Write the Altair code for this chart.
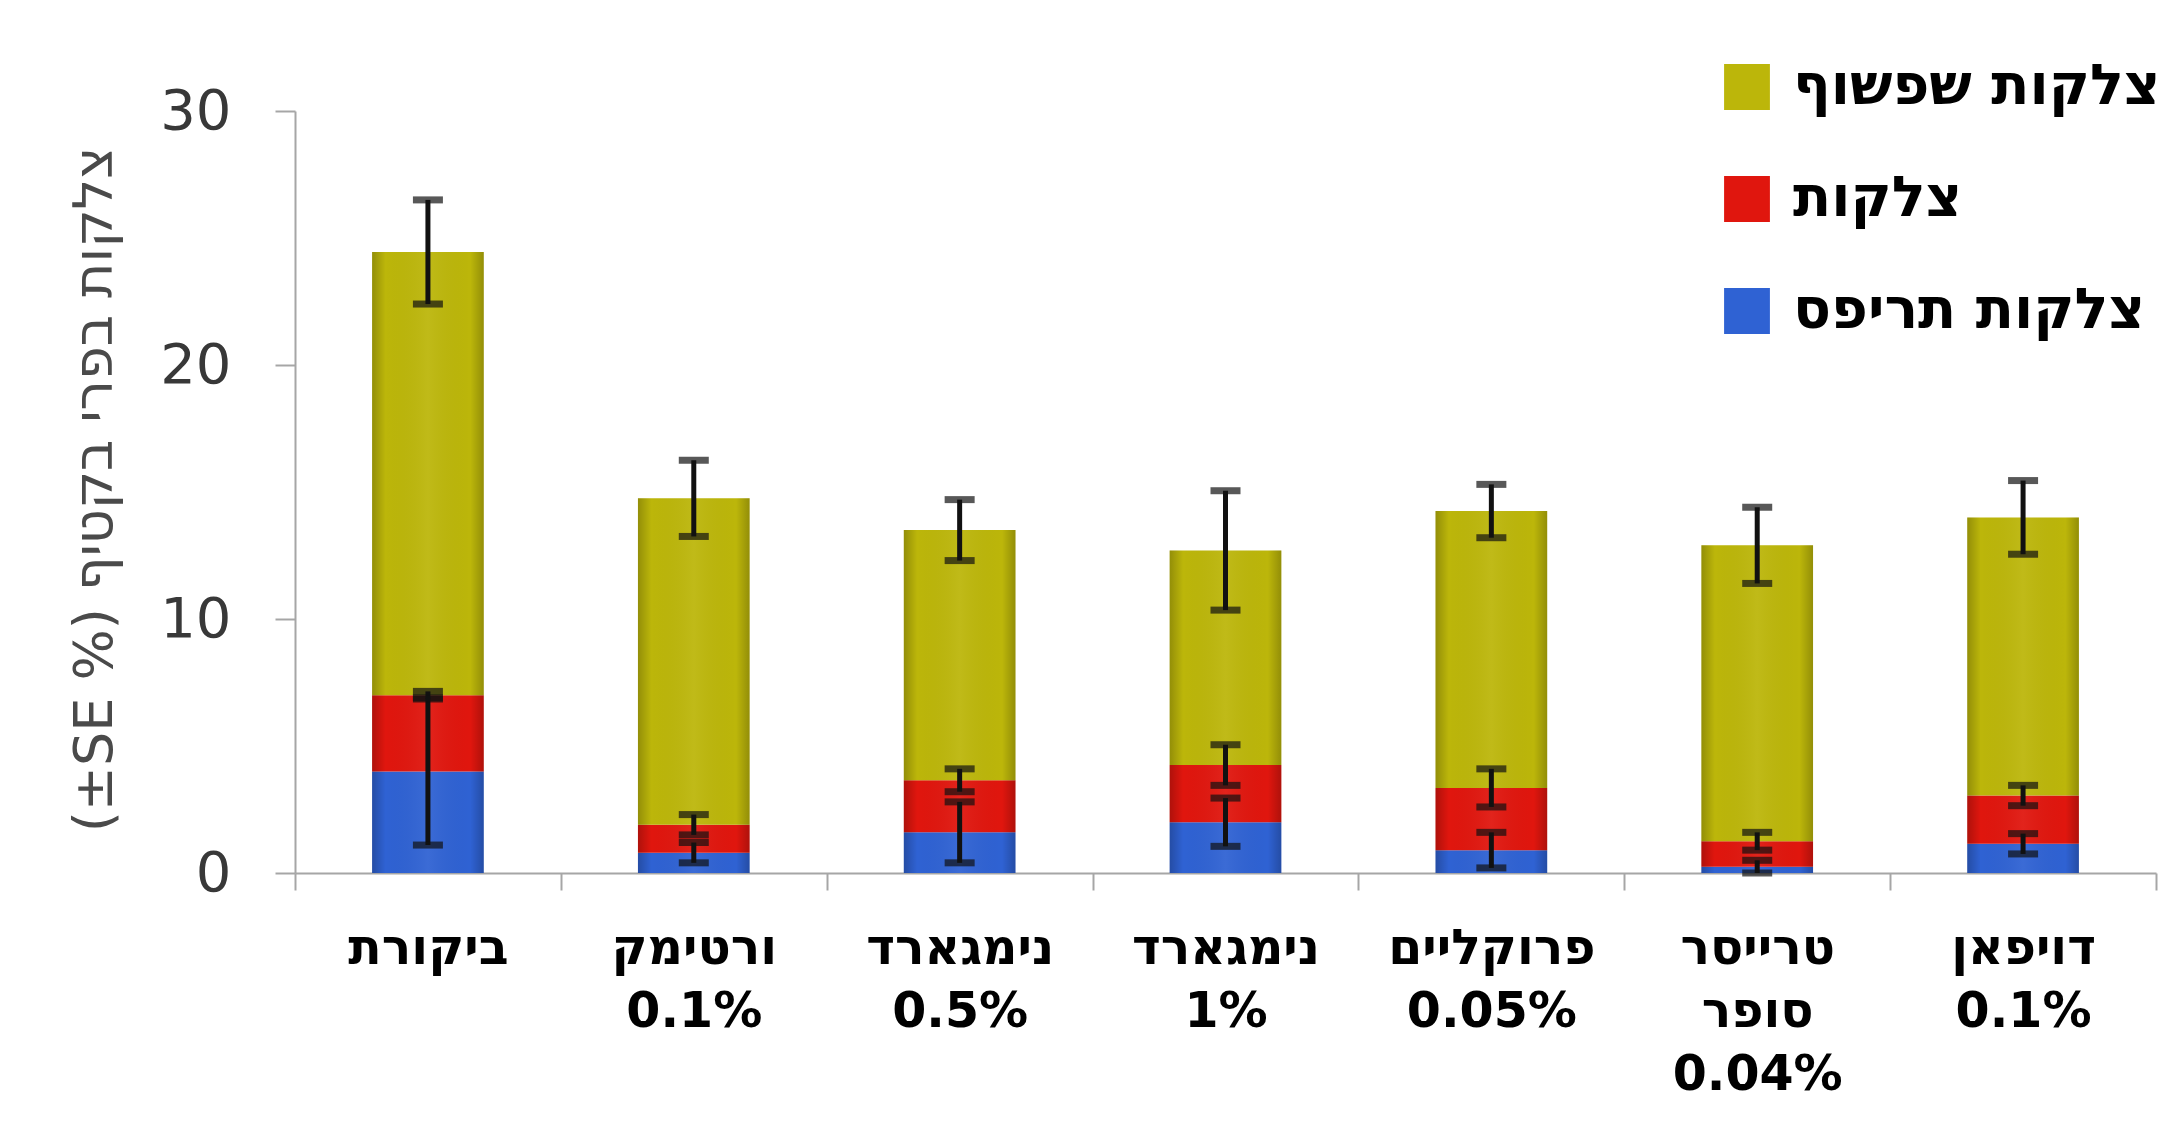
import altair as alt
import pandas as pd

# Categories (left to right); a space marks a line break in the axis label
categories = [
    "ביקורת",
    "ורטימק 0.1%",
    "נימגארד 0.5%",
    "נימגארד 1%",
    "פרוקליים 0.05%",
    "טרייסר סופר 0.04%",
    "דויפאן 0.1%",
]

# Series names (legend order top -> bottom)
series_names = ["צלקות שפשוף", "צלקות", "צלקות תריפס"]
series_colors = ["#bcb60a", "#e0160e", "#2f62d3"]

# Segment heights (stack: thrips at bottom, scars, rub scars on top)
thrips = [4.0, 0.8, 1.6, 2.0, 0.9, 0.25, 1.15]
scars = [3.0, 1.1, 2.05, 2.25, 2.45, 1.0, 1.9]
rub = [17.45, 12.85, 9.85, 8.45, 10.9, 11.65, 10.95]

# Standard errors (drawn at the cumulative top of each segment)
thrips_se = [2.9, 0.4, 1.2, 0.95, 0.7, 0.25, 0.4]
scars_se = [0.15, 0.4, 0.45, 0.8, 0.75, 0.35, 0.4]
rub_se = [2.05, 1.5, 1.2, 2.35, 1.05, 1.5, 1.45]

y_title = "(±SE %) צלקות בפרי בקטיף"

rows = []
for i, c in enumerate(categories):
    base_v = 0.0
    for name, vals, ses in [
        (series_names[2], thrips, thrips_se),
        (series_names[1], scars, scars_se),
        (series_names[0], rub, rub_se),
    ]:
        lo = base_v
        hi = base_v + vals[i]
        rows.append({"cat": c, "series": name, "lo": lo, "hi": hi,
                     "elo": hi - ses[i], "ehi": hi + ses[i]})
        base_v = hi
df = pd.DataFrame(rows)

GRAY = "#a6a6a6"
FONT = "DejaVu Sans"

x_axis = alt.Axis(
    title=None, labelAngle=0, labelExpr="split(datum.label, ' ')",
    labelFont=FONT, labelFontSize=49, labelFontWeight="bold", labelColor="black",
    labelLineHeight=63, labelPadding=34, labelBaseline="top", labelLimit=600,
    tickBand="extent", tickSize=17, tickColor=GRAY, tickWidth=2,
    domainColor=GRAY, domainWidth=2,
)
x_scale = alt.Scale(paddingInner=0, paddingOuter=0)

y_axis = alt.Axis(
    title=y_title, values=[0, 10, 20, 30], grid=False,
    labelFont=FONT, labelFontSize=56, labelColor="#383838", labelPadding=44,
    tickSize=20, tickColor=GRAY, tickWidth=2, domainColor=GRAY, domainWidth=2,
    titleFont=FONT, titleFontSize=54, titleFontWeight="normal", titleColor="#4a4a4a",
    titleAngle=270, titleAlign="center", titleBaseline="middle",
    titleX=-200, titleY=378,
)
y_scale = alt.Scale(domain=[0, 30])


def X():
    return alt.X("cat:N", sort=categories, scale=x_scale, axis=x_axis)


def Y(field):
    return alt.Y(field, scale=y_scale, axis=y_axis, title=y_title)


base = alt.Chart(df)

bars = base.mark_bar(width=alt.RelativeBandSize(0.42)).encode(
    x=X(),
    y=Y("lo:Q"),
    y2="hi:Q",
    color=alt.Color(
        "series:N",
        scale=alt.Scale(domain=series_names, range=series_colors),
        legend=alt.Legend(
            orient="none", legendX=1424, legendY=-52, title=None,
            symbolType="square", symbolSize=2100, symbolStrokeWidth=0, symbolOpacity=1,
            labelFont=FONT, labelFontSize=56, labelFontWeight="bold", labelColor="black",
            labelOffset=18, labelLimit=700, rowPadding=56,
        ),
    ),
)

shine = base.mark_bar(
    width=alt.RelativeBandSize(0.42),
    fill=alt.Gradient(
        gradient="linear", x1=0, x2=1, y1=0, y2=0,
        stops=[
            alt.GradientStop(color="rgba(0,0,0,0.22)", offset=0),
            alt.GradientStop(color="rgba(0,0,0,0.0)", offset=0.12),
            alt.GradientStop(color="rgba(255,255,255,0.06)", offset=0.5),
            alt.GradientStop(color="rgba(0,0,0,0.0)", offset=0.88),
            alt.GradientStop(color="rgba(0,0,0,0.22)", offset=1),
        ],
    ),
).encode(x=X(), y=Y("lo:Q"), y2="hi:Q")

err = base.mark_rule(color="#111111", strokeWidth=5).encode(
    x=X(), y=Y("elo:Q"), y2="ehi:Q"
)
cap_top = base.mark_tick(color="#111111", size=30, thickness=7).encode(
    x=X(), y=Y("ehi:Q")
)
cap_bot = base.mark_tick(color="#111111", size=30, thickness=7).encode(
    x=X(), y=Y("elo:Q")
)

chart = (
    alt.layer(bars, shine, err, cap_top, cap_bot)
    .properties(
        width=1861, height=762,
        autosize=alt.AutoSizeParams(type="none"),
        padding={"left": 287, "top": 103, "right": 20, "bottom": 263},
        background="white",
    )
    .configure_view(stroke=None)
)

chart.save("out.html", embed_options={"renderer": "svg", "actions": False})
